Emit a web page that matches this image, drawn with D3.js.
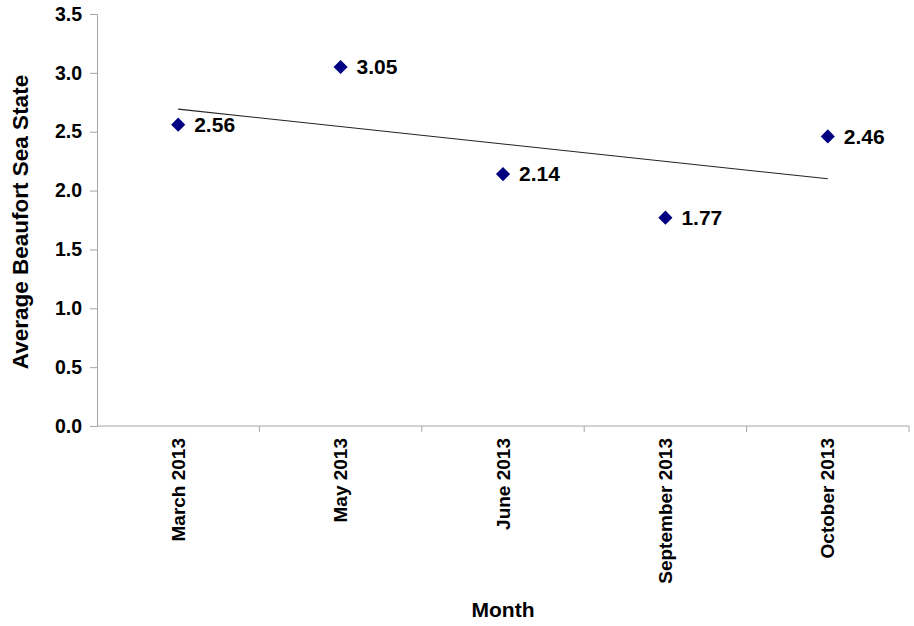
<!DOCTYPE html>
<html>
<head>
<meta charset="utf-8">
<script src="https://cdn.jsdelivr.net/npm/d3@7"></script>
<style>
  html, body { margin: 0; padding: 0; background: #fff; }
  svg { display: block; font-family: Arial, "Liberation Sans", sans-serif; }
</style>
</head>
<body>
<svg id="chart" width="914" height="626"></svg>
<script>
const categories = ["March 2013", "May 2013", "June 2013", "September 2013", "October 2013"];
const values = [2.56, 3.05, 2.14, 1.77, 2.46];
const yTicks = [0, 0.5, 1.0, 1.5, 2.0, 2.5, 3.0, 3.5];
const yTitle = "Average Beaufort Sea State";
const xTitle = "Month";

(function () {
const svg = d3.select("#chart");
const mLeft = 97, mRight = 909, mTop = 14, mBottom = 426;

const x = d3.scaleBand().domain(categories).range([mLeft, mRight]).padding(0);
const y = d3.scaleLinear().domain([0, 3.5]).range([mBottom, mTop]);
const cx = c => x(c) + x.bandwidth() / 2;

const axisColor = "#a6a6a6";

// Y axis
const yAxis = svg.append("g").attr("transform", `translate(${mLeft},0)`)
  .call(d3.axisLeft(y).tickValues(yTicks).tickFormat(d3.format(".1f")).tickSize(7).tickPadding(8));
yAxis.select(".domain").attr("stroke", axisColor);
yAxis.selectAll(".tick line").attr("stroke", axisColor);
yAxis.selectAll(".tick text").attr("fill", "#000").style("font-size", "19.5px").style("font-weight", "bold");

// X axis with ticks at band boundaries
const xAxisG = svg.append("g").attr("transform", `translate(0,${mBottom})`);
xAxisG.append("line").attr("x1", mLeft).attr("x2", mRight).attr("y1", 0).attr("y2", 0).attr("stroke", axisColor);
const bounds = categories.map(c => x(c)).concat([x(categories[categories.length - 1]) + x.bandwidth()]);
xAxisG.selectAll("line.tk").data(bounds.slice(1)).enter().append("line")
  .attr("class", "tk").attr("x1", d => d).attr("x2", d => d).attr("y1", 0).attr("y2", 6).attr("stroke", axisColor);
xAxisG.selectAll("text.lbl").data(categories).enter().append("text")
  .attr("class", "lbl")
  .attr("transform", d => `translate(${cx(d)},12) rotate(-90)`)
  .attr("text-anchor", "end")
  .attr("dy", "0.35em")
  .style("font-size", "19px").style("font-weight", "bold")
  .text(d => d);

// Trend line (least squares)
const n = values.length;
const xs = d3.range(n);
const mx = d3.mean(xs), my = d3.mean(values);
const slope = d3.sum(xs, i => (i - mx) * (values[i] - my)) / d3.sum(xs, i => (i - mx) ** 2);
const intercept = my - slope * mx;
svg.append("line")
  .attr("x1", cx(categories[0])).attr("y1", y(intercept))
  .attr("x2", cx(categories[n - 1])).attr("y2", y(intercept + slope * (n - 1)))
  .attr("stroke", "#222").attr("stroke-width", 1.1);

// Markers
const sym = d3.symbol().type(d3.symbolSquare).size(100);
svg.selectAll("path.pt").data(values).enter().append("path")
  .attr("class", "pt")
  .attr("d", sym)
  .attr("transform", (d, i) => `translate(${cx(categories[i])},${y(d)}) rotate(45)`)
  .attr("fill", "#000080");

// Data labels
svg.selectAll("text.val").data(values).enter().append("text")
  .attr("class", "val")
  .attr("x", (d, i) => cx(categories[i]) + 16)
  .attr("y", d => y(d))
  .attr("dy", "0.35em")
  .style("font-size", "21px").style("font-weight", "bold")
  .text(d => d.toFixed(2));

// Axis titles
svg.append("text")
  .attr("transform", `translate(28,222) rotate(-90)`)
  .attr("text-anchor", "middle")
  .style("font-size", "22.5px").style("font-weight", "bold")
  .text(yTitle);
svg.append("text")
  .attr("x", 503).attr("y", 617)
  .attr("text-anchor", "middle")
  .style("font-size", "21px").style("font-weight", "bold")
  .text(xTitle);
})();
</script>
</body>
</html>
